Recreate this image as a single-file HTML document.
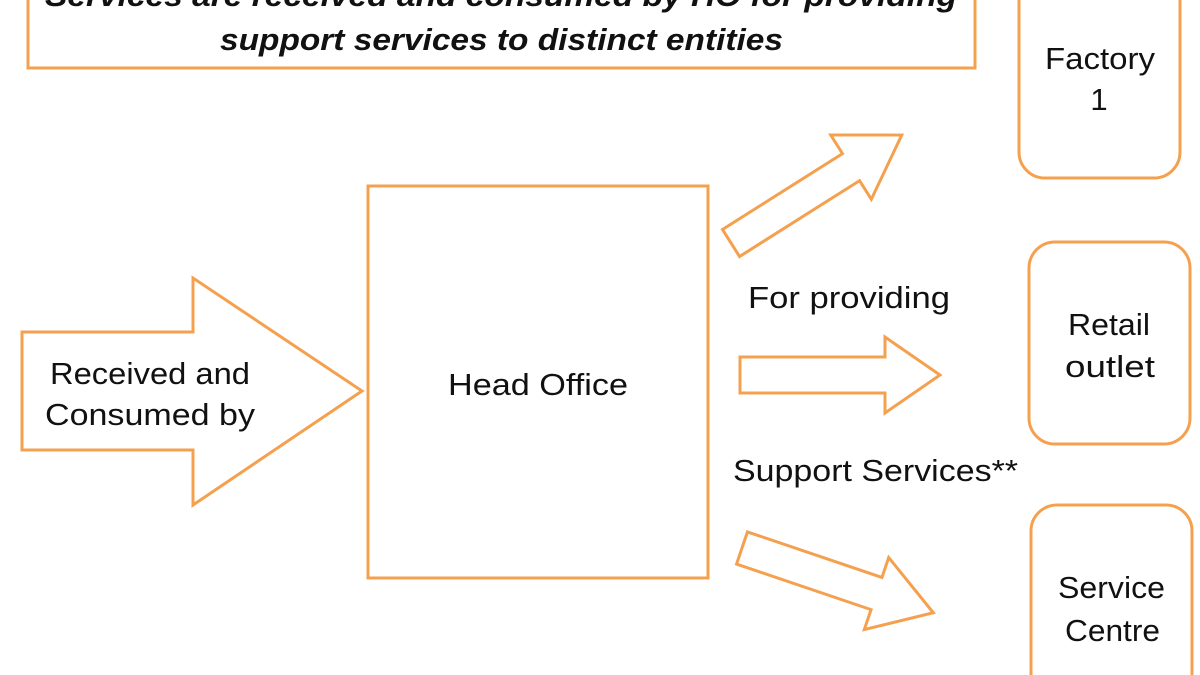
<!DOCTYPE html>
<html><head><meta charset="utf-8"><style>
html,body{margin:0;padding:0;background:#fff;width:1200px;height:675px;overflow:hidden}
svg{display:block}
text{font-family:"Liberation Sans",sans-serif;fill:#111}
</style></head><body>
<svg width="1200" height="675" viewBox="0 0 1200 675" xmlns="http://www.w3.org/2000/svg">
<g fill="none" stroke="#F5A04F" stroke-width="3" stroke-linejoin="miter">
<rect x="28" y="-40" width="947" height="108"/>
<rect x="1019" y="-40" width="161" height="218" rx="26"/>
<rect x="1029" y="242" width="161" height="202" rx="26"/>
<rect x="1031" y="505" width="161" height="200" rx="26"/>
<rect x="368" y="186" width="340" height="392"/>
<polygon points="22,332 193,332 193,278 362,391 193,505 193,450 22,450"/>
<polygon points="740,357 885,357 885,337 940,375 885,413 885,393 740,393"/>
<g transform="translate(731,243) rotate(-32.3)">
<polygon points="0,-16 142,-16 142,-38 202,0 142,38 142,16 0,16"/>
</g>
<g transform="translate(742,548) rotate(18.7)">
<polygon points="0,-17 142,-17 142,-38 202,0 142,38 142,17 0,17"/>
</g>
</g>
<g font-size="31" font-weight="bold" font-style="italic">
<text x="45" y="6" textLength="912" lengthAdjust="spacingAndGlyphs">Services are received and consumed by HO for providing</text>
<text x="220" y="50" textLength="563" lengthAdjust="spacingAndGlyphs">support services to distinct entities</text>
</g>
<g font-size="31">
<text x="1045" y="69" textLength="110" lengthAdjust="spacingAndGlyphs">Factory</text>
<text x="1099" y="110" text-anchor="middle">1</text>
<text x="1068" y="335" textLength="82" lengthAdjust="spacingAndGlyphs">Retail</text>
<text x="1065" y="377" textLength="90" lengthAdjust="spacingAndGlyphs">outlet</text>
<text x="1058" y="598" textLength="107" lengthAdjust="spacingAndGlyphs">Service</text>
<text x="1065" y="641" textLength="95" lengthAdjust="spacingAndGlyphs">Centre</text>
<text x="448" y="395" textLength="180" lengthAdjust="spacingAndGlyphs">Head Office</text>
<text x="50" y="384" textLength="200" lengthAdjust="spacingAndGlyphs">Received and</text>
<text x="45" y="425" textLength="210" lengthAdjust="spacingAndGlyphs">Consumed by</text>
<text x="748" y="308" textLength="202" lengthAdjust="spacingAndGlyphs">For providing</text>
<text x="733" y="481" textLength="285" lengthAdjust="spacingAndGlyphs">Support Services**</text>
</g>
</svg>
</body></html>
